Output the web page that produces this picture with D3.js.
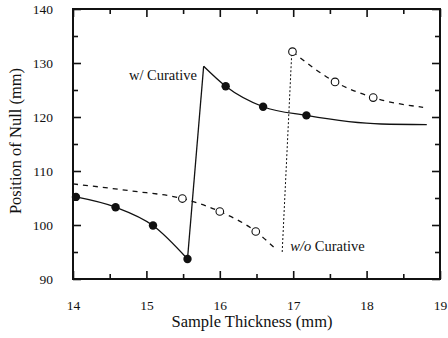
<!DOCTYPE html>
<html>
<head>
<meta charset="utf-8">
<script src="https://cdn.jsdelivr.net/npm/d3@7"></script>
<style>
  body { margin: 0; background: #fff; }
  text { font-family: "Liberation Serif", "Times New Roman", serif; fill: #111; }
</style>
</head>
<body>
<div id="chart"></div>
<script>
// data
var withX = [14.04, 14.58, 15.09, 15.56, 16.08, 16.59, 17.18];
var withY = [105.2, 103.3, 99.9, 93.7, 125.7, 121.9, 120.3];
var withoutX = [15.49, 16.0, 16.49, 16.99, 17.57, 18.09];
var withoutY = [104.9, 102.5, 98.8, 132.1, 126.5, 123.6];

// fitted lines, as traced on the picture
var withLineA = [[14.04, 105.2], [14.58, 103.3], [15.09, 99.9], [15.56, 93.7]];
var withJump = [[15.56, 93.7], [15.78, 129.4]];
var withLineB = [[15.78, 129.4], [16.08, 125.7], [16.59, 121.9], [17.18, 120.3], [18.2, 118.7], [18.82, 118.6]];
var withoutLineA = [[14.0, 107.6], [14.8, 106.3], [15.49, 104.9], [16.0, 102.5], [16.49, 98.8], [16.78, 95.3]];
var withoutJump = [[16.85, 95.0], [16.98, 131.8]];
var withoutLineB = [[16.99, 132.1], [17.57, 126.5], [18.09, 123.6], [18.77, 121.8]];

var xTicks = [14, 15, 16, 17, 18, 19];
var yTicks = [90, 100, 110, 120, 130, 140];
var xMinor = [14.5, 15.5, 16.5, 17.5, 18.5];
var yMinor = [95, 105, 115, 125, 135];

var labels = [
  { x: 15.69, y: 126.9, anchor: "end", text: "w/ Curative", italic: false },
  { x: 16.96, y: 95.2, anchor: "start", text: "Curative", italic: true }
];

var svgWidth = 448;
var svgHeight = 338;
var margin = { top: 9, right: 8, bottom: 59, left: 73 };
var chartWidth = svgWidth - margin.left - margin.right;
var chartHeight = svgHeight - margin.top - margin.bottom;

var svg = d3.select("#chart")
  .append("svg")
  .attr("width", svgWidth)
  .attr("height", svgHeight);

var chartGroup = svg.append("g")
  .attr("transform", `translate(${margin.left}, ${margin.top})`);

var xScale = d3.scaleLinear().domain([14, 19]).range([0, chartWidth]);
var yScale = d3.scaleLinear().domain([90, 140]).range([chartHeight, 0]);

// axes: ticks point inward on all four sides
function inward(axis, minor) {
  return axis.tickSizeInner(minor ? -5 : -8).tickSizeOuter(0).tickPadding(minor ? 0 : 21);
}

chartGroup.append("g")
  .attr("transform", `translate(0, ${chartHeight})`)
  .call(inward(d3.axisBottom(xScale).tickValues(xTicks).tickFormat(d3.format("d")), false));
chartGroup.append("g")
  .attr("transform", `translate(0, ${chartHeight})`)
  .call(inward(d3.axisBottom(xScale).tickValues(xMinor).tickFormat(""), true));
chartGroup.append("g")
  .call(inward(d3.axisTop(xScale).tickValues(xTicks).tickFormat(""), false));
chartGroup.append("g")
  .call(inward(d3.axisTop(xScale).tickValues(xMinor).tickFormat(""), true));

chartGroup.append("g")
  .call(inward(d3.axisLeft(yScale).tickValues(yTicks), false).tickPadding(20));
chartGroup.append("g")
  .call(inward(d3.axisLeft(yScale).tickValues(yMinor).tickFormat(""), true));
chartGroup.append("g")
  .attr("transform", `translate(${chartWidth}, 0)`)
  .call(inward(d3.axisRight(yScale).tickValues(yTicks).tickFormat(""), false));
chartGroup.append("g")
  .attr("transform", `translate(${chartWidth}, 0)`)
  .call(inward(d3.axisRight(yScale).tickValues(yMinor).tickFormat(""), true));

chartGroup.selectAll(".domain").remove();
chartGroup.selectAll(".tick line").attr("stroke", "#111").attr("stroke-width", 1.6);
chartGroup.selectAll(".tick text")
  .attr("font-size", 13.5)
  .attr("font-family", "Liberation Serif")
  .attr("fill", "#111");

// frame
chartGroup.append("rect")
  .attr("width", chartWidth)
  .attr("height", chartHeight)
  .attr("fill", "none")
  .attr("stroke", "#111")
  .attr("stroke-width", 2);

// lines
var smooth = d3.line()
  .x(d => xScale(d[0]))
  .y(d => yScale(d[1]))
  .curve(d3.curveMonotoneX);
var straight = d3.line()
  .x(d => xScale(d[0]))
  .y(d => yScale(d[1]));

[withLineA, withLineB].forEach(function(pts) {
  chartGroup.append("path").attr("d", smooth(pts))
    .attr("fill", "none").attr("stroke", "#111").attr("stroke-width", 1.3);
});
chartGroup.append("path").attr("d", straight(withJump))
  .attr("fill", "none").attr("stroke", "#111").attr("stroke-width", 1.3);

[withoutLineA, withoutLineB].forEach(function(pts) {
  chartGroup.append("path").attr("d", smooth(pts))
    .attr("fill", "none").attr("stroke", "#111").attr("stroke-width", 1.3)
    .attr("stroke-dasharray", "5,5");
});
chartGroup.append("path").attr("d", straight(withoutJump))
  .attr("fill", "none").attr("stroke", "#111").attr("stroke-width", 1)
  .attr("stroke-dasharray", "2,2");

// markers
chartGroup.selectAll(".filled")
  .data(d3.zip(withX, withY))
  .enter()
  .append("circle")
  .attr("cx", d => xScale(d[0]))
  .attr("cy", d => yScale(d[1]))
  .attr("r", 4.2)
  .attr("fill", "#111");

chartGroup.selectAll(".open")
  .data(d3.zip(withoutX, withoutY))
  .enter()
  .append("circle")
  .attr("cx", d => xScale(d[0]))
  .attr("cy", d => yScale(d[1]))
  .attr("r", 3.8)
  .attr("fill", "#fff")
  .attr("stroke", "#111")
  .attr("stroke-width", 1.1);

// inline labels
labels.forEach(function(l) {
  var t = chartGroup.append("text")
    .attr("x", xScale(l.x))
    .attr("y", yScale(l.y))
    .attr("text-anchor", l.anchor)
    .attr("font-size", 14.5);
  if (l.italic) {
    t.append("tspan").attr("font-style", "italic").text("w/o");
    t.append("tspan").text(" " + l.text);
  } else {
    t.text(l.text);
  }
});

// axis titles
svg.append("text")
  .attr("x", 252)
  .attr("y", 327)
  .attr("text-anchor", "middle")
  .attr("font-size", 16.5)
  .text("Sample Thickness (mm)");

svg.append("text")
  .attr("transform", "rotate(-90)")
  .attr("x", -141)
  .attr("y", 21)
  .attr("text-anchor", "middle")
  .attr("font-size", 16.5)
  .text("Position of Null (mm)");
</script>
</body>
</html>
